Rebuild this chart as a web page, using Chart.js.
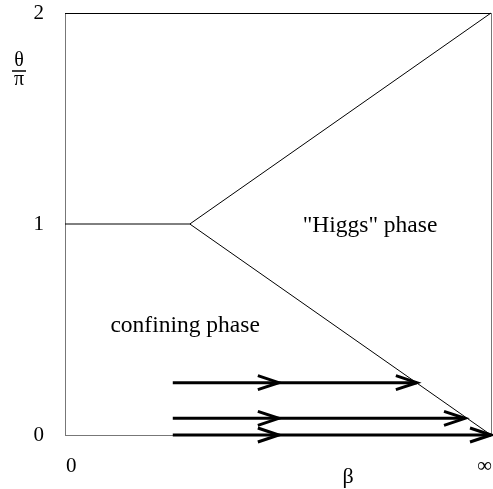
<!DOCTYPE html>
<html><head><meta charset="utf-8">
<script src="https://cdn.jsdelivr.net/npm/chart.js@4"></script>
<style>html,body{margin:0;padding:0;background:#fff;overflow:hidden}</style>
</head><body>
<canvas id="c" width="493" height="489"></canvas>
<script>
// ---- data ----
const yTickValues = [0, 1, 2];
const yTickLabels = ['0', '1', '2'];
const xTickValues = [0, 1];
const xTickLabels = ['0', '∞'];
const confiningBoundaryX = [0, 0.293];
const confiningBoundaryY = [1, 1];
const upperBoundaryX = [0.293, 1];
const upperBoundaryY = [1, 2];
const lowerBoundaryX = [0.293, 1];
const lowerBoundaryY = [1, 0];
const flowStartX = [0.253, 0.253, 0.253];
const flowEndX = [0.826, 0.939, 1];
const flowY = [0.248, 0.079, 0];
const flowMidX = 0.502;
const regionLabels = ['"Higgs" phase', 'confining phase'];
const regionX = [0.716, 0.282];
const regionY = [0.993, 0.518];
const xTitle = 'β';
const yTitleTop = 'θ';
const yTitleBottom = 'π';

const SERIF = '"Liberation Serif", "DejaVu Serif", serif';

function pts(xs, ys) { return xs.map((x, i) => ({x, y: ys[i]})); }

const datasets = [
  {data: pts(confiningBoundaryX, confiningBoundaryY)},
  {data: pts(upperBoundaryX, upperBoundaryY)},
  {data: pts(lowerBoundaryX, lowerBoundaryY)}
].map(d => Object.assign(d, {showLine: true, borderColor: '#000', borderWidth: 1, pointRadius: 0, clip: false}));

flowY.forEach((y, i) => {
  datasets.push({
    data: [{x: flowStartX[i], y}, {x: flowEndX[i], y}],
    showLine: true, borderColor: '#000', borderWidth: 3, pointRadius: 0, clip: false, borderCapStyle: 'butt'
  });
});

function noPad(s) { s.paddingLeft = 0; s.paddingRight = 0; s.paddingTop = 0; s.paddingBottom = 0; }

const decor = {
  id: 'decor',
  afterDatasetsDraw(chart) {
    const {ctx, scales: {x, y}} = chart;
    ctx.save();
    // arrow heads
    ctx.strokeStyle = '#000';
    ctx.lineWidth = 3;
    ctx.lineJoin = 'miter';
    flowY.forEach((v, i) => {
      const py = y.getPixelForValue(v);
      [flowMidX, flowEndX[i]].forEach(tx => {
        const px = x.getPixelForValue(tx);
        ctx.beginPath();
        ctx.moveTo(px - 21, py - 7);
        ctx.lineTo(px, py);
        ctx.lineTo(px - 21, py + 7);
        ctx.stroke();
      });
    });
    // region labels
    ctx.fillStyle = '#000';
    ctx.font = '23.5px ' + SERIF;
    ctx.textAlign = 'center';
    ctx.textBaseline = 'middle';
    regionLabels.forEach((t, i) => {
      ctx.fillText(t, x.getPixelForValue(regionX[i]), y.getPixelForValue(regionY[i]));
    });
    // axis titles
    ctx.font = '22px ' + SERIF;
    ctx.fillText(xTitle, 348, 477);
    ctx.font = '20px ' + SERIF;
    ctx.fillText(yTitleTop, 19, 61);
    ctx.fillText(yTitleBottom, 19, 80);
    ctx.lineWidth = 1.5;
    ctx.beginPath();
    ctx.moveTo(12, 71);
    ctx.lineTo(26, 71);
    ctx.stroke();
    ctx.restore();
  }
};

new Chart(document.getElementById('c'), {
  type: 'scatter',
  data: {datasets},
  options: {
    responsive: false,
    animation: false,
    devicePixelRatio: 1,
    layout: {padding: 0},
    plugins: {legend: {display: false}, tooltip: {enabled: false}},
    scales: {
      x: {
        type: 'linear', position: 'bottom', min: 0, max: 1,
        afterBuildTicks: s => { s.ticks = xTickValues.map(v => ({value: v})); },
        afterFit: s => { s.height = 54; noPad(s); },
        ticks: {
          callback: (v, i) => xTickLabels[i],
          font: {family: SERIF, size: 21}, color: '#000', padding: 19,
          maxRotation: 0, autoSkip: false, align: 'inner', labelOffset: 1
        },
        grid: {display: false, drawTicks: false},
        border: {display: true, color: '#777', width: 1}
      },
      y: {
        type: 'linear', position: 'left', min: 0, max: 2,
        afterBuildTicks: s => { s.ticks = yTickValues.map(v => ({value: v})); },
        afterFit: s => { s.width = 65; noPad(s); },
        ticks: {
          callback: (v, i) => yTickLabels[i],
          font: {family: SERIF, size: 21}, color: '#000', padding: 21, autoSkip: false
        },
        grid: {display: false, drawTicks: false},
        border: {display: true, color: '#777', width: 1}
      },
      xTop: {
        type: 'linear', position: 'top', min: 0, max: 1,
        afterFit: s => { s.height = 13; noPad(s); },
        ticks: {display: false},
        grid: {display: false, drawTicks: false},
        border: {display: true, color: '#000', width: 1}
      },
      yRight: {
        type: 'linear', position: 'right', min: 0, max: 2,
        afterFit: s => { s.width = 2; noPad(s); },
        ticks: {display: false},
        grid: {display: false, drawTicks: false},
        border: {display: true, color: '#777', width: 1}
      }
    }
  },
  plugins: [decor]
});
</script>
</body></html>
